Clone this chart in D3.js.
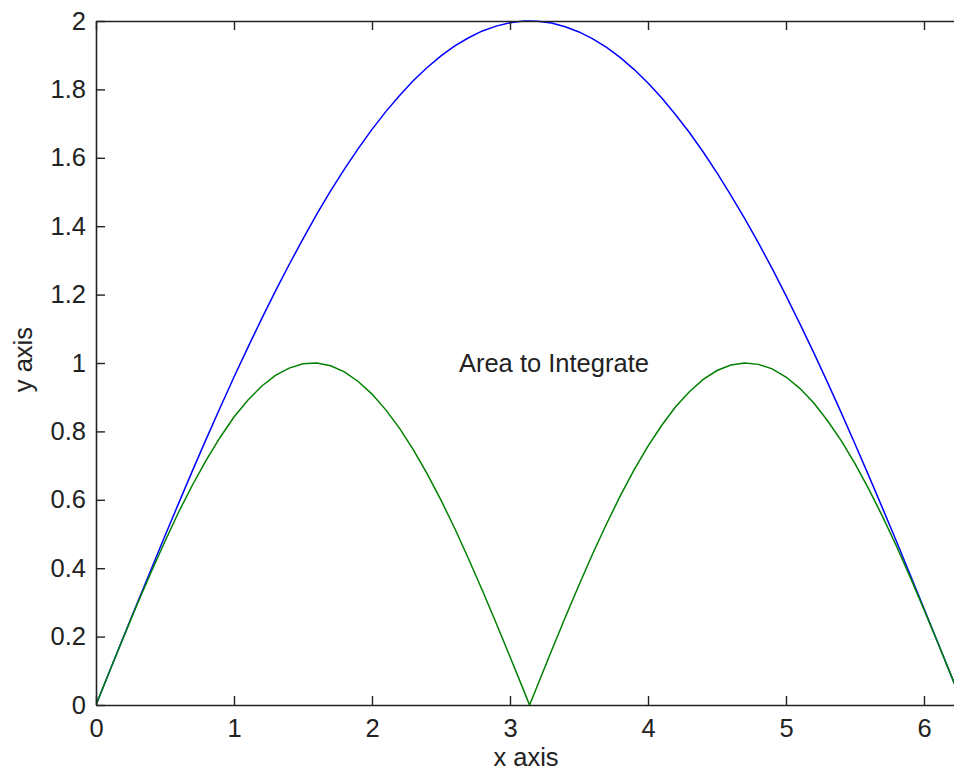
<!DOCTYPE html>
<html>
<head>
<meta charset="utf-8">
<script src="https://cdn.jsdelivr.net/npm/d3@7"></script>
<style>
  body { margin: 0; background: #fff; }
  svg { display: block; }
  text { font-family: "Liberation Sans", Arial, sans-serif; fill: #222; }
</style>
</head>
<body>
<div id="chart"></div>
<script>
// sample positions along x (0 .. 2*pi)
const xs = [0, 0.1, 0.2, 0.3, 0.4, 0.5, 0.6, 0.7, 0.8, 0.9, 1.0, 1.1, 1.2, 1.3, 1.4, 1.5,
  1.6, 1.7, 1.8, 1.9, 2.0, 2.1, 2.2, 2.3, 2.4, 2.5, 2.6, 2.7, 2.8, 2.9, 3.0, 3.1, 3.1416,
  3.2, 3.3, 3.4, 3.5, 3.6, 3.7, 3.8, 3.9, 4.0, 4.1, 4.2, 4.3, 4.4, 4.5, 4.6, 4.7, 4.8,
  4.9, 5.0, 5.1, 5.2, 5.3, 5.4, 5.5, 5.6, 5.7, 5.8, 5.9, 6.0, 6.1, 6.2, 6.2832];

// blue curve (upper arch)
const upper = [0, 0.100, 0.200, 0.299, 0.397, 0.495, 0.591, 0.686, 0.779, 0.870, 0.959,
  1.045, 1.129, 1.210, 1.288, 1.363, 1.435, 1.503, 1.567, 1.627, 1.683, 1.735, 1.782,
  1.826, 1.864, 1.898, 1.927, 1.951, 1.971, 1.985, 1.995, 2.000, 2.000,
  1.999, 1.994, 1.983, 1.968, 1.948, 1.923, 1.893, 1.858, 1.819, 1.775, 1.726, 1.674,
  1.617, 1.556, 1.491, 1.423, 1.351, 1.276, 1.197, 1.115, 1.031, 0.944, 0.855, 0.763,
  0.670, 0.575, 0.479, 0.381, 0.282, 0.183, 0.083, 0];

// green curve (two humps)
const lower = [0, 0.100, 0.199, 0.296, 0.389, 0.479, 0.565, 0.644, 0.717, 0.783, 0.842,
  0.891, 0.932, 0.964, 0.985, 0.998, 1.000, 0.992, 0.974, 0.946, 0.909, 0.863, 0.809,
  0.746, 0.676, 0.599, 0.516, 0.427, 0.335, 0.239, 0.141, 0.042, 0,
  0.058, 0.158, 0.256, 0.351, 0.443, 0.530, 0.612, 0.688, 0.757, 0.818, 0.872, 0.916,
  0.952, 0.978, 0.994, 1.000, 0.996, 0.983, 0.959, 0.926, 0.884, 0.832, 0.773, 0.706,
  0.631, 0.551, 0.465, 0.374, 0.279, 0.182, 0.083, 0];

const xTicks = [0, 1, 2, 3, 4, 5, 6];
const yTicks = [0, 0.2, 0.4, 0.6, 0.8, 1, 1.2, 1.4, 1.6, 1.8, 2];
const xLabel = "x axis";
const yLabel = "y axis";
const note = { x: 2.63, y: 1, text: "Area to Integrate" };

const width = 954, height = 773;
const margin = {top: 21, left: 96, bottom: 68};
const plotW = 138 * 2 * Math.PI;
const plotH = height - margin.top - margin.bottom;
const fontSize = 25.5;

const svg = d3.select("#chart").append("svg")
  .attr("width", width)
  .attr("height", height);

const x = d3.scaleLinear().domain([0, 2 * Math.PI]).range([margin.left, margin.left + plotW]);
const y = d3.scaleLinear().domain([0, 2]).range([margin.top + plotH, margin.top]);

const fmt = d => d3.format("")(+d.toFixed(1));
const tickLen = 9;

// curves, clipped to plot box
svg.append("clipPath").attr("id", "clip")
  .append("rect")
  .attr("x", x(0)).attr("y", y(2) - 1)
  .attr("width", plotW).attr("height", plotH + 2);

const line = d3.line()
  .x((d, i) => x(xs[i]))
  .y(d => y(d));

const plot = svg.append("g").attr("clip-path", "url(#clip)");
plot.append("path").datum(upper)
  .attr("fill", "none").attr("stroke", "#0000ff").attr("stroke-width", 1.5)
  .attr("d", line);
plot.append("path").datum(lower)
  .attr("fill", "none").attr("stroke", "#008000").attr("stroke-width", 1.5)
  .attr("d", line);

// axes: bottom/left with labels, top/right mirrored ticks only
function styleAxis(g) {
  g.select(".domain").attr("stroke", "#222").attr("stroke-width", 1.6);
  g.selectAll(".tick line").attr("stroke", "#222").attr("stroke-width", 1.4);
  g.selectAll(".tick text").attr("font-size", fontSize).attr("fill", "#222")
    .attr("font-family", "Liberation Sans, Arial, sans-serif");
}

svg.append("g")
  .attr("transform", "translate(0," + y(0) + ")")
  .call(d3.axisBottom(x).tickValues(xTicks).tickFormat(fmt)
    .tickSizeInner(-tickLen).tickSizeOuter(0).tickPadding(14))
  .call(styleAxis);

svg.append("g")
  .attr("transform", "translate(0," + y(2) + ")")
  .call(d3.axisTop(x).tickValues(xTicks).tickFormat("")
    .tickSizeInner(-tickLen).tickSizeOuter(0))
  .call(styleAxis);

svg.append("g")
  .attr("transform", "translate(" + x(0) + ",0)")
  .call(d3.axisLeft(y).tickValues(yTicks).tickFormat(fmt)
    .tickSizeInner(-tickLen).tickSizeOuter(0).tickPadding(10))
  .call(styleAxis);

svg.append("g")
  .attr("transform", "translate(" + x(2 * Math.PI) + ",0)")
  .call(d3.axisRight(y).tickValues(yTicks).tickFormat("")
    .tickSizeInner(-tickLen).tickSizeOuter(0))
  .call(styleAxis);

// labels
svg.append("text")
  .attr("x", 526)
  .attr("y", 766)
  .attr("text-anchor", "middle")
  .attr("font-size", fontSize)
  .text(xLabel);

svg.append("text")
  .attr("transform", "translate(32," + y(1.01) + ") rotate(-90)")
  .attr("text-anchor", "middle")
  .attr("font-size", fontSize)
  .text(yLabel);

svg.append("text")
  .attr("x", x(note.x))
  .attr("y", y(note.y) + 9)
  .attr("font-size", fontSize)
  .text(note.text);
</script>
</body>
</html>
